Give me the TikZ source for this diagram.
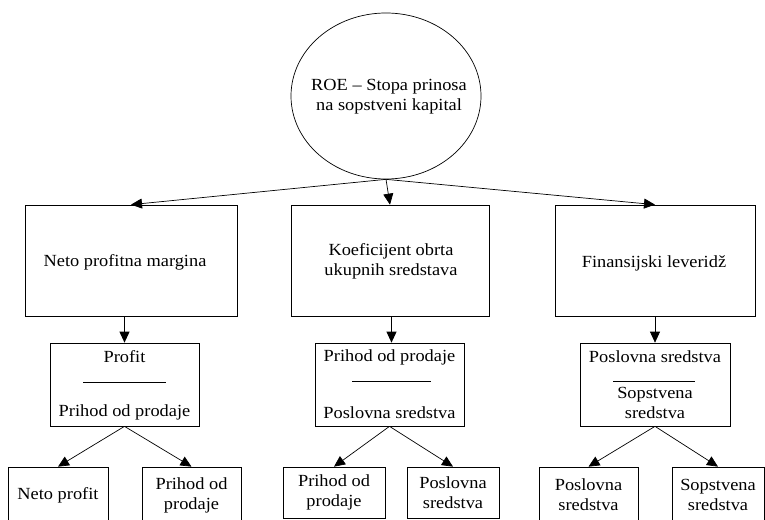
\documentclass[tikz,border=0pt]{standalone}
\usepackage{fontspec}
\setmainfont{Liberation Serif}[FakeStretch=1.08]
\usetikzlibrary{shapes.geometric,arrows.meta}
\begin{document}
\begin{tikzpicture}[x=1pt,y=-1pt,
  every node/.style={font=\fontsize{17}{20}\selectfont, align=center},
  box/.style={draw, rectangle, line width=0.7pt, inner sep=0pt},
  txt/.style={inner sep=0pt},
  arr/.style={line width=0.7pt, -{Triangle[length=11pt,width=10pt]}},
  frac/.style={fill=black, inner sep=0pt, minimum height=0.8pt}
]
\useasboundingbox (0,0) rectangle (765,519);
\clip (0,0) rectangle (765,519);
% top ellipse
\node[draw, ellipse, line width=0.7pt, inner sep=0pt, minimum width=190pt, minimum height=166pt] (roe) at (386,96) {};
\node[txt] (roet) at (389,97) {ROE -- Stopa prinosa\\na sopstveni kapital};
% first row
\node[box, minimum width=212pt, minimum height=111pt] (a1) at (131,260.5) {};
\node[txt] (a1t) at (125,262) {Neto profitna margina};
\node[box, minimum width=198pt, minimum height=111pt] (a2) at (390,260.5) {};
\node[txt] (a2t) at (391,261.5) {Koeficijent obrta\\ukupnih sredstava};
\node[box, minimum width=200pt, minimum height=111pt] (a3) at (655,260.5) {};
\node[txt] (a3t) at (654,263) {Finansijski leveridž};
% second row
\node[box, minimum width=149pt, minimum height=83pt] (b1) at (124.5,384.5) {};
\node[box, minimum width=149pt, minimum height=83pt] (b2) at (389.5,384.5) {};
\node[box, minimum width=150pt, minimum height=83pt] (b3) at (655,384.5) {};
\node[txt] (b1n) at (124.5,357) {Profit};
\node[frac, minimum width=83pt] (b1r) at (124.5,382) {};
\node[txt] (b1d) at (124.5,412) {Prihod od prodaje};
\node[txt] (b2n) at (389.5,357) {Prihod od prodaje};
\node[frac, minimum width=79pt] (b2r) at (391.5,381) {};
\node[txt] (b2d) at (389.5,413) {Poslovna sredstva};
\node[txt] (b3n) at (655,357) {Poslovna sredstva};
\node[frac, minimum width=82pt] (b3r) at (654,381) {};
\node[txt] (b3d) at (655,403) {Sopstvena\\sredstva};
% third row
\node[box, minimum width=100pt, minimum height=56pt] (c1) at (58,495) {Neto profit};
\node[box, minimum width=99pt, minimum height=56pt] (d1) at (191.5,495) {Prihod od\\prodaje};
\node[box, minimum width=102pt, minimum height=51pt] (c2) at (334,492.5) {Prihod od\\prodaje};
\node[box, minimum width=92pt, minimum height=51pt] (d2) at (453,492.5) {Poslovna\\sredstva};
\node[box, minimum width=99pt, minimum height=56pt] (c3) at (588.5,495) {Poslovna\\sredstva};
\node[box, minimum width=92pt, minimum height=56pt] (d3) at (718,495) {Sopstvena\\sredstva};
% connectors
\draw[arr] (roe.south) -- (a1.north);
\draw[arr] (roe.south) -- (a2.north);
\draw[arr] (roe.south) -- (a3.north);
\draw[arr] (a1.south -| b1.north) -- (b1.north);
\draw[arr] ([xshift=2pt]a2.south -| b2.north) -- ([xshift=2pt]b2.north);
\draw[arr] (a3.south) -- (b3.north);
\draw[arr] (b1.south) -- (c1.north);
\draw[arr] (b1.south) -- (d1.north);
\draw[arr] (b2.south) -- (c2.north);
\draw[arr] (b2.south) -- (d2.north);
\draw[arr] (b3.south) -- (c3.north);
\draw[arr] (b3.south) -- (d3.north);
\end{tikzpicture}
\end{document}
